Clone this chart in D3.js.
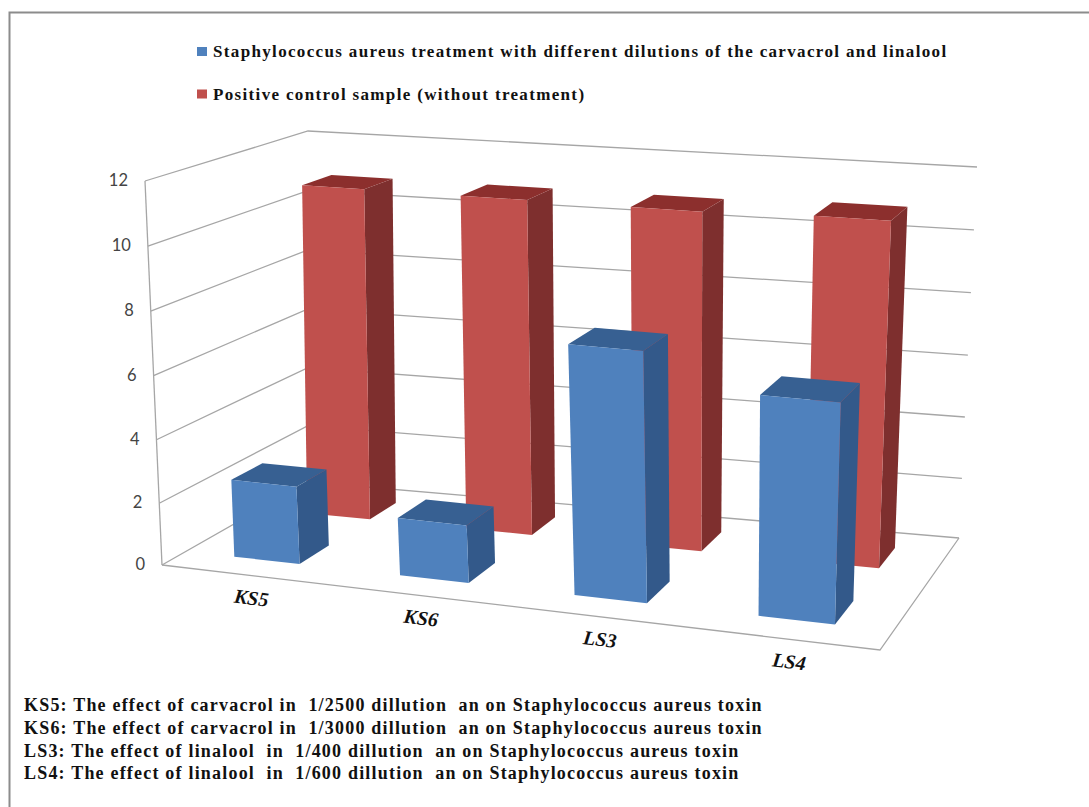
<!DOCTYPE html>
<html>
<head>
<meta charset="utf-8">
<script src="https://cdn.jsdelivr.net/npm/d3@7/dist/d3.min.js"></script>
<style>
html,body{margin:0;padding:0;background:#fff}
svg{display:block}
</style>
</head>
<body>
<svg id="chart" width="1089" height="807"></svg>
<script>
// Chart data
const categories = ["KS5", "KS6", "LS3", "LS4"];
const treated = [2.5, 1.85, 7.75, 6.75];
const control = [10.85, 10.85, 10.85, 10.95];
const valueTicks = [0, 2, 4, 6, 8, 10, 12];
const seriesNames = [
  "Staphylococcus aureus treatment with different dilutions of the carvacrol and linalool",
  "Positive control sample (without treatment)"
];
const notes = [
  "KS5: The effect of carvacrol in  1/2500 dillution  an on Staphylococcus aureus toxin",
  "KS6: The effect of carvacrol in  1/3000 dillution  an on Staphylococcus aureus toxin",
  "LS3: The effect of linalool  in  1/400 dillution  an on Staphylococcus aureus toxin",
  "LS4: The effect of linalool  in  1/600 dillution  an on Staphylococcus aureus toxin"
];

const svg = d3.select("#chart");

// Scene axes, each mapped to a unit range before projection
const x = d3.scaleBand().domain(categories).range([0, 1]).paddingInner(0.6).paddingOuter(0.3);
const z = d3.scaleBand().domain(["treated", "control"]).range([0, 1]).paddingInner(0.6).paddingOuter(0.3);
const y = d3.scalePow().exponent(1.02).domain([0, 12]).range([0, 1]);

// Gaussian elimination for the plane mappings below
function solve(A, b) {
  const n = b.length, M = A.map((r, i) => [...r, b[i]]);
  for (let c = 0; c < n; c++) {
    let p = c;
    for (let r = c + 1; r < n; r++) if (Math.abs(M[r][c]) > Math.abs(M[p][c])) p = r;
    [M[c], M[p]] = [M[p], M[c]];
    for (let r = 0; r < n; r++) {
      if (r === c) continue;
      const f = M[r][c] / M[c][c];
      for (let k = c; k <= n; k++) M[r][k] -= f * M[c][k];
    }
  }
  return M.map((r, i) => r[n] / r[i]);
}
// Perspective map of the unit square onto a quad: [u0v0, u1v0, u1v1, u0v1]
function planeMap(q) {
  const uv = [[0, 0], [1, 0], [1, 1], [0, 1]], A = [], b = [];
  q.forEach(([px, py], i) => {
    const [u, v] = uv[i];
    A.push([u, v, 1, 0, 0, 0, -px * u, -px * v]); b.push(px);
    A.push([0, 0, 0, u, v, 1, -py * u, -py * v]); b.push(py);
  });
  const m = solve(A, b);
  return (u, v) => {
    const w = m[6] * u + m[7] * v + 1;
    return [(m[0] * u + m[1] * v + m[2]) / w, (m[3] * u + m[4] * v + m[5]) / w];
  };
}
// Eases foreshortening along the width of the box; corners stay fixed
const ease = (u, a) => a * u / (1 + (a - 1) * u);
const floorMap = planeMap([[162, 565], [880, 650], [959, 538], [308, 482]]);
const ceilingMap = planeMap([[145, 181], [896, 244], [977, 167], [308, 131]]);
const project = (u, d, h) => {
  const a = floorMap(ease(u, 1.114), d), b = ceilingMap(ease(u, 1.15), d);
  return [a[0] + (b[0] - a[0]) * h, a[1] + (b[1] - a[1]) * h];
};
const line = d3.line();
const stroke = "#a6a6a6";

// Walls and gridlines
const grid = svg.append("g").attr("fill", "none").attr("stroke", stroke).attr("stroke-width", 1.3);
valueTicks.forEach(t => {
  const v = y(t);
  grid.append("path").attr("d", line([project(0, 0, v), project(0, 1, v), project(1, 1, v)]));
});
grid.append("path").attr("d", line([project(0, 0, 0), project(0, 0, 1)]));
grid.append("path").attr("d", line([project(0, 0, 0), project(1, 0, 0), project(1, 1, 0)]));

// One box per value: back series first, then front, left to right
function drawBars(values, series, faces) {
  const g = svg.append("g");
  categories.forEach((c, i) => {
    const x0 = x(c), x1 = x0 + x.bandwidth();
    const z0 = z(series), z1 = z0 + z.bandwidth();
    const v = y(values[i]);
    const quad = a => line(a.map(p => project(...p))) + "Z";
    g.append("path").attr("fill", faces.side)
      .attr("d", quad([[x1, z0, 0], [x1, z1, 0], [x1, z1, v], [x1, z0, v]]));
    g.append("path").attr("fill", faces.top)
      .attr("d", quad([[x0, z0, v], [x1, z0, v], [x1, z1, v], [x0, z1, v]]));
    g.append("path").attr("fill", faces.front)
      .attr("d", quad([[x0, z0, 0], [x1, z0, 0], [x1, z0, v], [x0, z0, v]]));
  });
}
drawBars(control, "control", { front: "#c0504d", side: "#7e2f2e", top: "#8c2f2d" });
drawBars(treated, "treated", { front: "#4f81bd", side: "#33598a", top: "#376092" });

// Value labels beside the left edge
svg.append("g").selectAll("text").data(valueTicks).join("text")
  .attr("x", t => project(0, 0, y(t))[0] - 17)
  .attr("y", t => project(0, 0, y(t))[1] + 5)
  .attr("text-anchor", "end")
  .attr("font-family", "Lato, 'Open Sans', sans-serif")
  .attr("font-size", 16.5)
  .attr("fill", "#444")
  .text(t => t);

// Category labels follow the front edge of the floor
svg.append("g").selectAll("text").data(categories).join("text")
  .attr("transform", c => {
    const [px, py] = project(x(c) + x.bandwidth() / 2, 0, 0);
    return `translate(${px + 7},${py + 30}) rotate(7)`;
  })
  .attr("text-anchor", "middle")
  .attr("font-family", "'Liberation Serif', serif")
  .attr("font-weight", "bold")
  .attr("font-style", "italic")
  .attr("font-size", 20)
  .attr("fill", "#111")
  .text(c => c);

// Legend
const legend = svg.append("g");
[["#4f81bd", 51.5], ["#c0504d", 94]].forEach(([color, ty], i) => {
  legend.append("rect").attr("x", 197).attr("y", ty - 4.5).attr("width", 10).attr("height", 9).attr("fill", color);
  legend.append("text")
    .attr("x", 213).attr("y", ty + 5.5)
    .attr("font-family", "'Liberation Serif', serif")
    .attr("font-weight", "bold")
    .attr("font-size", 17)
    .attr("letter-spacing", 1.34)
    .attr("fill", "#111")
    .text(seriesNames[i]);
});

// Abbreviation notes under the plot
svg.append("g").selectAll("text").data(notes).join("text")
  .attr("x", 24)
  .attr("y", (d, i) => 711 + i * 22.8)
  .attr("font-family", "'Liberation Serif', serif")
  .attr("font-weight", "bold")
  .attr("font-size", 18)
  .attr("letter-spacing", 1.2)
  .style("white-space", "pre")
  .attr("fill", "#111")
  .text(d => d);

// Outer frame: left and top edges only
svg.append("path")
  .attr("d", "M9.5 807V12.5H1089")
  .attr("fill", "none").attr("stroke", "#8c8c8c").attr("stroke-width", 2);
</script>
</body>
</html>
